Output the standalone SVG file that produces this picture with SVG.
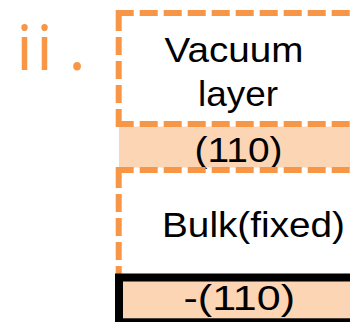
<svg xmlns="http://www.w3.org/2000/svg" width="350" height="322" viewBox="0 0 350 322">
<style>
.lbl{font-family:"Liberation Sans",Arial,sans-serif;font-size:35px;fill:#000}
.dash{fill:none;stroke:#F79646;stroke-width:6;stroke-dasharray:18 6}
.band{fill:#FCD5B5}
</style>
<rect width="350" height="322" fill="#fff"/>
<text id="title" x="16.5 36.5 68.7" y="69.5" style="font-family:'Noto Sans',sans-serif;font-size:62px;fill:#F79646">ii.</text>
<g id="surface-band">
<rect class="band" x="119" y="126.5" width="240" height="41"/>
<text class="lbl" x="194.5" y="161.7" textLength="88" lengthAdjust="spacingAndGlyphs">(110)</text>
</g>
<g id="vacuum">
<path class="dash" d="M115.7 13H360M118.7 13V124M115.7 124H360"/>
<text class="lbl" x="164.5" y="61.7" textLength="139" lengthAdjust="spacingAndGlyphs">Vacuum</text>
<text class="lbl" x="198" y="106" textLength="80" lengthAdjust="spacingAndGlyphs">layer</text>
</g>
<g id="bulk">
<path class="dash" d="M115.7 170H360M118.7 170V276"/>
<text class="lbl" x="162" y="236.7" textLength="183" lengthAdjust="spacingAndGlyphs">Bulk(fixed)</text>
</g>
<g id="bottom-band">
<rect x="119" y="277.5" width="240" height="44.8" fill="#FCD5B5" stroke="#000" stroke-width="8"/>
<text class="lbl" x="183.5" y="310" textLength="111.5" lengthAdjust="spacingAndGlyphs">-(110)</text>
</g>
<g id="connectors"/>
</svg>
